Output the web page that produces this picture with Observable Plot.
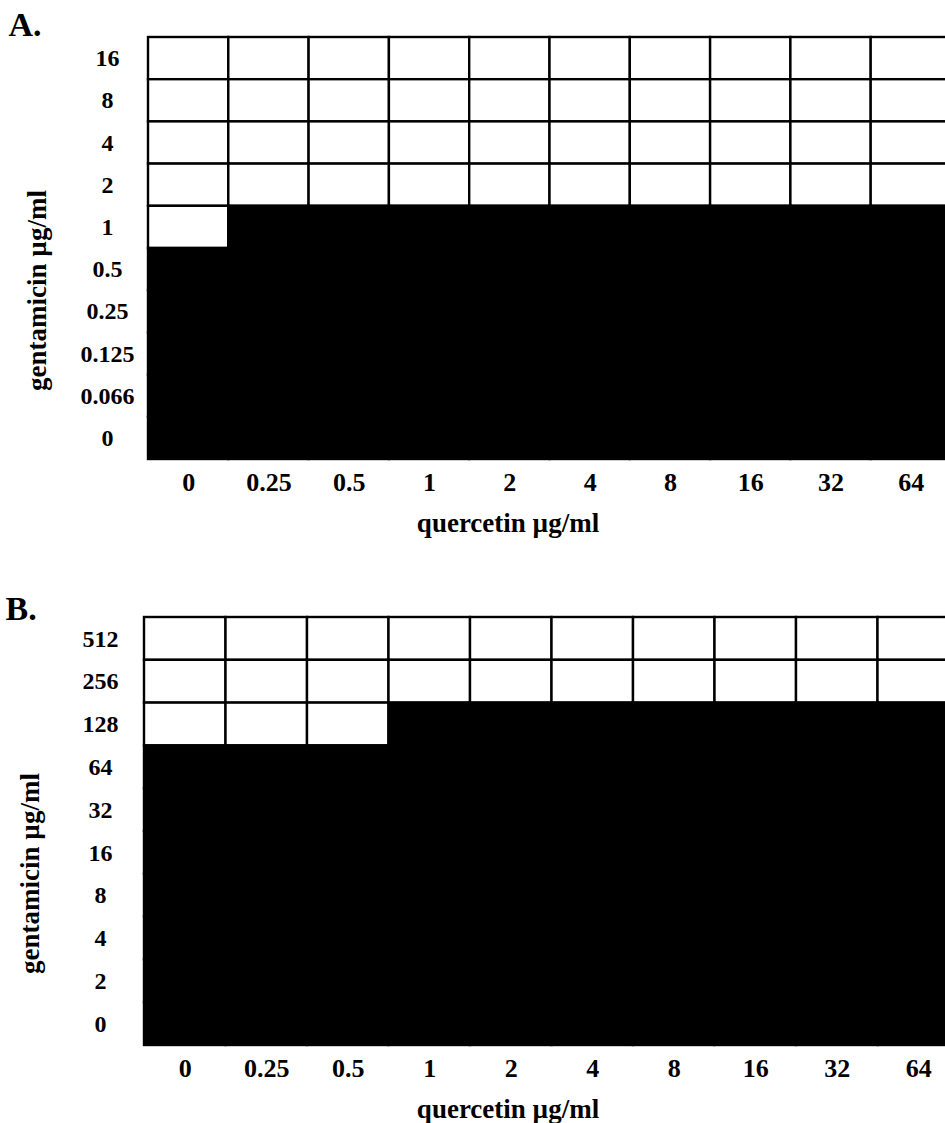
<!DOCTYPE html>
<html><head><meta charset="utf-8">
<script src="https://cdn.jsdelivr.net/npm/d3@7"></script>
<script src="https://cdn.jsdelivr.net/npm/@observablehq/plot@0.6"></script>
<style>
html,body{margin:0;padding:0;background:#fff;overflow:hidden;width:945px;height:1123px}
#wrap{width:945px;height:1123px;overflow:hidden}
#wrap svg{display:block;max-width:none !important}
</style></head><body><div id="wrap"></div>
<script>
// quercetin concentrations (columns, left to right)
const quercetin = ["0","0.25","0.5","1","2","4","8","16","32","64"];
// gentamicin concentrations (rows, top to bottom)
const gentamicinA = ["16","8","4","2","1","0.5","0.25","0.125","0.066","0"];
const gentamicinB = ["512","256","128","64","32","16","8","4","2","0"];
// 1 = growth (black cell), 0 = no growth (white cell); rows top to bottom
const growthA = [
  [0,0,0,0,0,0,0,0,0,0],
  [0,0,0,0,0,0,0,0,0,0],
  [0,0,0,0,0,0,0,0,0,0],
  [0,0,0,0,0,0,0,0,0,0],
  [0,1,1,1,1,1,1,1,1,1],
  [1,1,1,1,1,1,1,1,1,1],
  [1,1,1,1,1,1,1,1,1,1],
  [1,1,1,1,1,1,1,1,1,1],
  [1,1,1,1,1,1,1,1,1,1],
  [1,1,1,1,1,1,1,1,1,1]
];
const growthB = [
  [0,0,0,0,0,0,0,0,0,0],
  [0,0,0,0,0,0,0,0,0,0],
  [0,0,0,1,1,1,1,1,1,1],
  [1,1,1,1,1,1,1,1,1,1],
  [1,1,1,1,1,1,1,1,1,1],
  [1,1,1,1,1,1,1,1,1,1],
  [1,1,1,1,1,1,1,1,1,1],
  [1,1,1,1,1,1,1,1,1,1],
  [1,1,1,1,1,1,1,1,1,1],
  [1,1,1,1,1,1,1,1,1,1]
];
const panelLabels = ["A.", "B."];
const xTitle = "quercetin µg/ml";
const yTitle = "gentamicin µg/ml";

const FONT = "'Liberation Serif', 'Times New Roman', serif";

function toCells(rows, growth) {
  const out = [];
  rows.forEach((g, i) => quercetin.forEach((q, j) => out.push({q, g, growth: growth[i][j]})));
  return out;
}

function panel({rows, growth, letter, width, height, marginLeft, marginTop, marginBottom,
                yTickPad, letterDx, letterDy, yTitleDx, yTitleDy, xTitleDx, xTitleDy}) {
  const cells = toCells(rows, growth);
  return Plot.plot({
    width, height, marginLeft, marginTop, marginBottom, marginRight: 0,
    style: {fontFamily: FONT, fontWeight: "bold", color: "#000", background: "#fff",
            overflow: "visible", maxWidth: "none"},
    x: {type: "band", domain: quercetin, padding: 0, round: false, label: null},
    y: {type: "band", domain: rows, padding: 0, round: false, label: null},
    marks: [
      Plot.cell(cells, {x: "q", y: "g", fill: d => d.growth ? "#000" : "#fff",
        stroke: "#000", strokeWidth: 2.4, inset: 0}),
      Plot.axisX({anchor: "bottom", tickSize: 0, tickPadding: 13, fontSize: 26, fontWeight: "bold", label: null}),
      Plot.axisY({anchor: "left", tickSize: 0, tickPadding: yTickPad, textAnchor: "middle", fontSize: 24, fontWeight: "bold", label: null}),
      Plot.text([letter], {frameAnchor: "top-left", text: d => d, dx: letterDx, dy: letterDy,
        textAnchor: "start", lineAnchor: "middle", fontSize: 34, fontWeight: "bold"}),
      Plot.text([yTitle], {frameAnchor: "left", text: d => d, rotate: -90, dx: yTitleDx, dy: yTitleDy,
        textAnchor: "middle", lineAnchor: "middle", fontSize: 27, fontWeight: "bold"}),
      Plot.text([xTitle], {frameAnchor: "bottom", text: d => d, dx: xTitleDx, dy: xTitleDy,
        textAnchor: "middle", lineAnchor: "middle", fontSize: 27, fontWeight: "bold"})
    ]
  });
}

const wrap = document.getElementById("wrap");
wrap.append(panel({rows: gentamicinA, growth: growthA, letter: panelLabels[0],
  width: 951, height: 545, marginLeft: 148, marginTop: 37, marginBottom: 86,
  yTickPad: 41, letterDx: -140, letterDy: -12, yTitleDx: -111, yTitleDy: 42,
  xTitleDx: -42, xTitleDy: 64}));
wrap.append(panel({rows: gentamicinB, growth: growthB, letter: panelLabels[1],
  width: 959, height: 578, marginLeft: 144, marginTop: 72, marginBottom: 78,
  yTickPad: 44, letterDx: -139, letterDy: -8, yTitleDx: -114, yTitleDy: 42,
  xTitleDx: -44, xTitleDy: 64}));
</script>
</body></html>
